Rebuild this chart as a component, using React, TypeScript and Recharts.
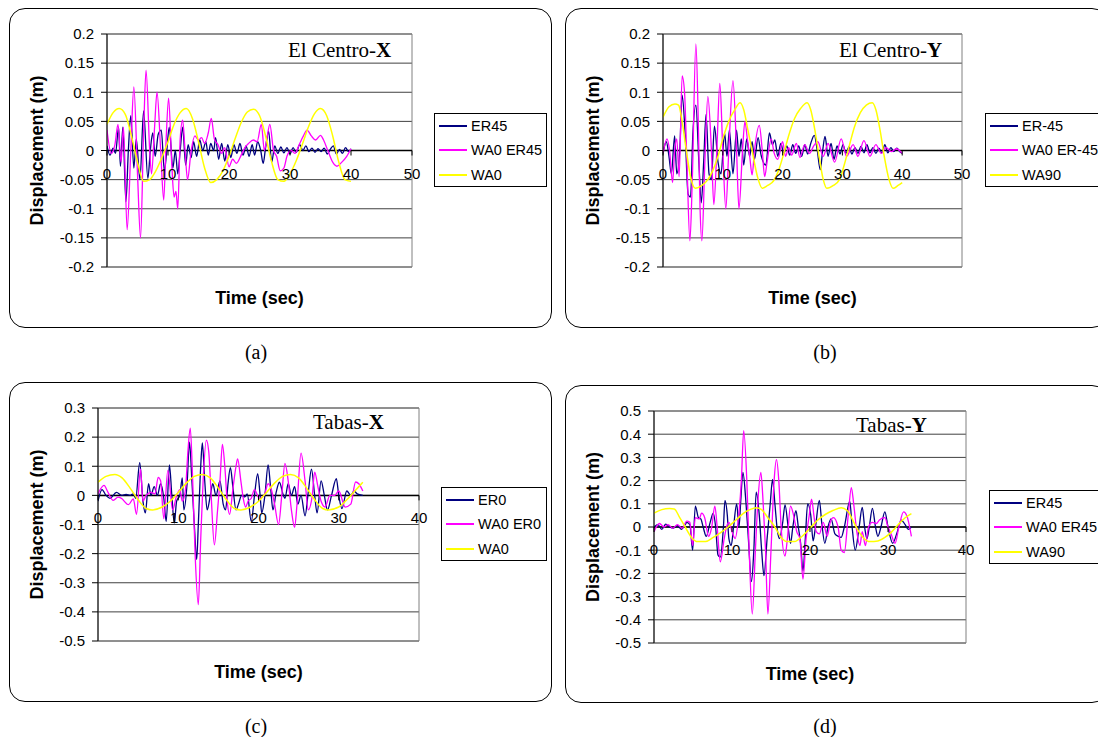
import React from "react";
import { LineChart, Line, XAxis, YAxis, CartesianGrid, ReferenceLine, ReferenceArea, Legend } from "recharts";

type Pt = [number, number];

// (a) El Centro - X   [time (s), displacement (m)]
const elcX_ER45: Pt[] = [
  [0, 0.008], [0.5, -0.008], [1.0, 0.004], [1.4, -0.005], [1.9, 0.04], [2.2, -0.027], [2.6, 0.04], [3.1, -0.088],
  [3.5, 0.0], [3.9, 0.06], [4.4, -0.03], [4.8, 0.02], [5.4, -0.05], [6.0, 0.068], [6.7, -0.048], [7.1, 0.0],
  [7.5, 0.03], [7.9, -0.01], [8.4, 0.028], [8.9, 0.035], [9.4, -0.035], [9.8, 0.0], [10.2, 0.04], [10.8, -0.03],
  [11.2, 0.0], [11.6, -0.04], [12.0, 0.0], [12.4, 0.04], [12.9, -0.025], [13.3, 0.01], [13.8, -0.012], [14.2, 0.015],
  [14.7, -0.01], [15.2, 0.018], [15.7, 0.0], [16.2, 0.015], [16.6, -0.008], [17.0, 0.012], [17.5, 0.0], [17.8, 0.022],
  [18.3, -0.015], [18.8, 0.012], [19.3, -0.018], [19.8, 0.01], [20.3, -0.012], [20.8, 0.01], [21.3, -0.005], [21.8, 0.012],
  [22.3, -0.008], [22.8, 0.008], [23.3, -0.01], [23.8, 0.01], [24.2, -0.008], [24.7, 0.015], [25.2, 0.0], [25.6, -0.022],
  [26.0, 0.005], [26.5, 0.033], [27.0, -0.02], [27.5, 0.008], [28.0, -0.005], [28.5, 0.006], [29.0, -0.004], [29.5, 0.005],
  [30.0, -0.006], [30.5, 0.005], [31.0, -0.003], [31.6, 0.01], [32.1, 0.0], [32.6, 0.008], [33.1, -0.002], [33.6, 0.004],
  [34.1, -0.003], [34.6, 0.003], [35.1, -0.002], [35.6, 0.004], [36.1, -0.006], [36.6, 0.002], [37.1, 0.008], [37.6, -0.006],
  [38.1, 0.002], [38.6, -0.005], [39.1, 0.005], [39.6, -0.002], [40.0, 0.003],
];
const elcX_WA0ER45: Pt[] = [
  [0, 0.035], [0.7, -0.005], [1.3, 0.01], [1.8, 0.045], [2.3, -0.02], [2.7, 0.04], [3.3, -0.136], [3.9, 0.0],
  [4.4, 0.109], [5.0, -0.04], [5.5, -0.15], [6.0, 0.03], [6.4, 0.138], [7.0, 0.0], [7.3, -0.04], [7.8, 0.04],
  [8.2, 0.1], [8.8, 0.0], [9.3, -0.085], [9.7, 0.02], [10.1, 0.09], [10.6, -0.02], [11.0, -0.08], [11.3, -0.07],
  [11.6, -0.1], [12.0, 0.02], [12.4, 0.052], [12.8, 0.0], [13.2, -0.05], [13.8, 0.0], [14.4, 0.025], [15.0, 0.018],
  [15.5, 0.022], [16.0, 0.012], [16.6, 0.03], [17.1, 0.055], [17.6, 0.02], [18.2, 0.01], [18.8, -0.005], [19.3, 0.005],
  [20.0, -0.028], [20.6, -0.015], [21.2, -0.022], [22.0, -0.008], [22.6, 0.005], [23.2, 0.012], [24.0, 0.018], [24.6, 0.015],
  [25.3, 0.045], [25.8, 0.0], [26.2, 0.02], [26.7, 0.045], [27.3, 0.0], [27.8, -0.01], [28.4, -0.035], [29.0, -0.03],
  [29.5, -0.01], [30.2, 0.0], [30.8, -0.005], [31.5, 0.01], [32.2, 0.025], [32.8, 0.035], [33.5, 0.025], [34.2, 0.018],
  [35.0, 0.026], [35.5, 0.018], [36.2, 0.0], [37.0, -0.02], [37.7, -0.027], [38.5, -0.02], [39.3, -0.01], [40.0, 0.003],
];
const elcX_WA0: Pt[] = [
  [0, 0.045], [1, 0.065], [2, 0.072], [3, 0.062], [4, 0.025], [5, -0.02], [6, -0.053], [7, -0.05], [8, -0.035],
  [9, -0.012], [10, 0.015], [11, 0.045], [12, 0.065], [13, 0.072], [14, 0.055], [15, 0.015], [16, -0.03], [17, -0.055],
  [18, -0.05], [19, -0.035], [20, -0.01], [21, 0.02], [22, 0.048], [23, 0.066], [24, 0.071], [25, 0.06], [26, 0.025],
  [27, -0.02], [28, -0.05], [29, -0.053], [30, -0.04], [31, -0.018], [32, 0.01], [33, 0.04], [34, 0.063], [35, 0.072],
  [36, 0.06], [37, 0.025], [38, -0.02], [39, -0.05], [40, -0.053],
];

// (b) El Centro - Y
const elcY_ER45: Pt[] = [
  [0, -0.005], [0.55, 0.015], [1.0, -0.01], [1.4, -0.04], [1.95, 0.025], [2.3, -0.04], [2.8, 0.0], [3.2, 0.095],
  [3.7, 0.03], [4.2, -0.075], [4.6, -0.08], [5.0, 0.03], [5.5, 0.078], [6.0, -0.02], [6.4, -0.09], [6.8, -0.02],
  [7.2, 0.062], [7.7, -0.04], [8.1, -0.05], [8.6, 0.042], [9.2, -0.02], [9.7, -0.04], [10.3, 0.03], [10.7, -0.01],
  [11.1, 0.035], [11.7, -0.04], [12.3, 0.035], [12.7, -0.01], [13.1, 0.02], [13.5, -0.025], [14.0, 0.02], [14.5, -0.01],
  [14.9, 0.015], [15.3, -0.015], [15.9, 0.022], [16.4, -0.008], [17.2, -0.025], [17.8, 0.03], [18.3, 0.01], [18.7, 0.018],
  [19.2, -0.01], [19.7, 0.012], [20.2, -0.005], [20.7, 0.008], [21.2, -0.008], [21.7, 0.01], [22.2, -0.005], [22.7, 0.008],
  [23.2, -0.01], [23.7, 0.01], [24.2, -0.006], [24.7, 0.012], [25.3, 0.026], [25.8, 0.0], [26.3, -0.033], [26.7, 0.0],
  [27.1, 0.024], [27.6, -0.01], [28.1, 0.012], [28.6, -0.015], [29.1, 0.008], [29.6, -0.006], [30.1, 0.01], [30.6, -0.005],
  [31.1, 0.006], [31.6, -0.006], [32.1, 0.005], [32.6, -0.005], [33.1, 0.007], [33.6, -0.004], [34.1, 0.01], [34.6, -0.004],
  [35.1, 0.005], [35.6, -0.005], [36.1, 0.004], [36.6, -0.004], [37.1, 0.01], [37.6, -0.004], [38.1, 0.005], [38.6, -0.002],
  [39.1, 0.004], [39.6, -0.002], [40.0, -0.005],
];
const elcY_WA0ER45: Pt[] = [
  [0, -0.005], [0.67, 0.02], [1.1, 0.0], [1.6, -0.055], [1.95, 0.0], [2.3, 0.02], [2.7, -0.045], [3.2, 0.128],
  [3.6, 0.1], [4.0, -0.02], [4.5, -0.155], [4.9, -0.05], [5.5, 0.183], [5.9, 0.05], [6.2, -0.1], [6.5, -0.155],
  [7.0, -0.02], [7.5, 0.093], [8.1, 0.0], [8.5, -0.093], [9.0, 0.0], [9.5, 0.115], [10.0, 0.0], [10.5, -0.1],
  [11.0, 0.0], [11.7, 0.12], [12.3, 0.0], [12.7, -0.1], [13.3, 0.0], [13.7, 0.05], [14.1, 0.02], [14.5, -0.01],
  [14.9, -0.042], [15.3, 0.0], [16.1, 0.043], [16.6, 0.0], [17.0, -0.045], [17.4, -0.02], [18.1, 0.02], [18.6, -0.005],
  [19.2, -0.015], [20.0, 0.015], [20.5, -0.01], [21.0, 0.005], [21.5, -0.008], [22.3, 0.012], [22.9, -0.012], [23.7, 0.01],
  [24.5, -0.005], [25.2, 0.008], [25.9, 0.015], [26.8, -0.01], [27.6, 0.012], [28.7, -0.02], [29.8, 0.02], [30.7, -0.01],
  [31.8, 0.01], [32.6, -0.01], [33.6, 0.017], [34.6, -0.01], [35.6, 0.01], [36.5, -0.005], [37.3, 0.005], [38.2, -0.002],
  [39.0, 0.003], [40.0, -0.005],
];
const elcY_WA90: Pt[] = [
  [0, 0.057], [1, 0.075], [2, 0.08], [2.6, 0.078], [3.2, 0.05], [3.9, 0.0], [4.6, -0.045], [5.4, -0.065], [6.5, -0.06],
  [7.5, -0.05], [8.3, -0.035], [9.2, -0.01], [10, 0.02], [11, 0.05], [12, 0.07], [12.9, 0.082], [13.5, 0.07], [14.2, 0.035],
  [14.9, 0.0], [15.8, -0.045], [16.6, -0.065], [17.5, -0.06], [18.5, -0.052], [19.3, -0.035], [20.2, -0.005], [21, 0.025],
  [22, 0.055], [23, 0.072], [24.1, 0.082], [24.7, 0.07], [25.4, 0.035], [26.1, -0.01], [26.8, -0.05], [27.4, -0.065],
  [28.5, -0.06], [29.5, -0.05], [30.3, -0.025], [31.2, 0.01], [32, 0.04], [33, 0.065], [34, 0.078], [35, 0.082],
  [35.6, 0.07], [36.3, 0.035], [37, -0.01], [37.8, -0.05], [38.5, -0.065], [39.3, -0.06], [40, -0.055],
];

// (c) Tabas - X
const tabX_ER0: Pt[] = [
  [0, -0.02], [0.5, 0.02], [1.0, 0.0], [1.5, -0.01], [2.3, 0.01], [3.0, 0.0], [3.5, 0.003], [4.0, 0.0], [4.4, 0.005],
  [4.7, -0.01], [5.2, 0.112], [5.6, -0.02], [5.9, -0.06], [6.3, 0.04], [6.6, 0.0], [7.0, 0.03], [7.4, 0.0], [7.8, 0.04],
  [8.2, -0.01], [8.5, -0.09], [8.9, 0.105], [9.2, 0.0], [9.5, -0.095], [9.8, -0.02], [10.2, 0.0], [10.5, 0.06],
  [10.7, -0.05], [11.1, 0.04], [11.4, 0.183], [11.7, 0.05], [12.0, -0.1], [12.3, -0.22], [12.5, -0.1], [12.8, 0.1],
  [13.0, 0.18], [13.3, 0.05], [13.6, -0.05], [14.0, 0.0], [14.3, 0.04], [14.7, 0.0], [15.2, 0.05], [15.6, -0.03],
  [15.9, -0.05], [16.2, 0.04], [16.5, 0.095], [16.8, 0.03], [17.2, -0.05], [17.5, -0.03], [17.9, 0.0], [18.3, -0.005],
  [18.6, 0.005], [19.1, -0.09], [19.5, 0.0], [19.9, 0.075], [20.2, 0.0], [20.4, -0.06], [20.8, 0.0], [21.2, 0.105],
  [21.5, 0.03], [21.8, -0.05], [22.2, 0.01], [22.6, 0.045], [23.1, 0.0], [23.3, -0.01], [23.7, 0.04], [24.1, 0.0],
  [24.5, 0.03], [24.9, -0.03], [25.3, 0.0], [25.8, -0.07], [26.2, 0.01], [26.6, 0.09], [27.0, 0.0], [27.3, -0.06],
  [27.8, 0.05], [28.2, 0.0], [28.6, -0.05], [29.1, 0.0], [29.7, 0.057], [30.0, 0.0], [30.4, -0.045], [31.0, 0.015],
  [31.5, 0.0], [31.9, 0.015], [32.3, 0.005], [33.0, 0.0],
];
const tabX_WA0ER0: Pt[] = [
  [0, 0.005], [0.75, 0.034], [1.25, 0.01], [1.9, -0.017], [2.5, -0.006], [2.9, -0.01], [3.8, -0.032], [4.4, -0.012],
  [4.8, -0.065], [5.3, 0.09], [5.6, -0.02], [6.0, 0.0], [6.6, 0.01], [7.1, 0.005], [7.5, 0.062], [7.8, 0.05],
  [8.2, -0.08], [8.7, 0.086], [9.3, -0.05], [9.8, 0.0], [10.2, 0.02], [10.5, -0.02], [10.9, 0.02], [11.2, 0.15],
  [11.5, 0.231], [11.8, 0.05], [12.1, -0.2], [12.5, -0.375], [12.8, -0.15], [13.1, 0.05], [13.5, 0.19], [13.8, 0.15],
  [14.1, 0.0], [14.5, -0.17], [14.9, -0.05], [15.2, 0.05], [15.5, 0.175], [15.8, 0.1], [16.1, -0.02], [16.4, -0.065],
  [16.8, 0.02], [17.2, 0.1], [17.4, 0.125], [17.8, 0.05], [18.1, -0.01], [18.4, -0.04], [18.7, -0.02], [19.1, -0.01],
  [19.5, 0.02], [20.1, -0.01], [20.7, 0.0], [21.2, 0.04], [21.6, 0.02], [22.0, -0.03], [22.5, -0.1], [22.9, 0.0],
  [23.3, 0.11], [23.7, 0.05], [24.1, -0.05], [24.5, -0.11], [24.8, -0.03], [25.3, 0.145], [25.8, 0.05], [26.2, -0.05],
  [26.7, 0.0], [27.0, 0.08], [27.4, 0.03], [27.8, -0.02], [28.3, -0.04], [28.9, 0.0], [29.5, 0.0], [30.0, 0.015],
  [30.8, -0.04], [31.5, -0.03], [32.1, 0.046], [32.5, 0.04], [33.0, 0.015],
];
const tabX_WA0: Pt[] = [
  [0, 0.045], [1, 0.065], [2.1, 0.072], [3, 0.06], [4, 0.025], [5, -0.015], [6, -0.045], [6.8, -0.05], [8, -0.04],
  [9, -0.02], [10, 0.01], [11, 0.042], [12, 0.065], [13, 0.072], [14, 0.06], [15, 0.025], [16, -0.015], [17, -0.045],
  [17.8, -0.05], [19, -0.04], [20, -0.02], [21, 0.01], [22, 0.042], [23, 0.065], [24, 0.072], [25, 0.06], [26, 0.025],
  [27, -0.015], [28, -0.045], [28.7, -0.05], [30, -0.04], [31, -0.015], [32, 0.015], [33, 0.045],
];

// (d) Tabas - Y
const tabY_ER45: Pt[] = [
  [0, 0.0], [0.5, 0.01], [1.0, -0.01], [1.5, 0.012], [2.0, 0.0], [2.5, -0.005], [3.0, 0.006], [3.5, -0.01], [4.0, 0.01],
  [4.2, 0.02], [4.6, 0.01], [4.95, -0.1], [5.3, 0.09], [5.7, 0.04], [6.0, 0.035], [6.3, 0.0], [6.7, -0.04], [7.2, 0.02],
  [7.6, 0.06], [7.9, 0.0], [8.2, -0.12], [8.5, -0.13], [8.9, 0.0], [9.1, 0.115], [9.4, 0.05], [9.6, -0.05], [9.9, -0.08],
  [10.2, 0.0], [10.6, 0.1], [10.9, 0.0], [11.1, 0.1], [11.4, 0.235], [11.8, 0.1], [12.1, -0.05], [12.5, -0.235],
  [12.8, -0.1], [13.1, 0.15], [13.5, 0.05], [13.8, -0.1], [14.1, -0.21], [14.5, -0.05], [14.9, 0.1], [15.2, 0.205],
  [15.5, 0.1], [15.8, -0.01], [16.1, -0.05], [16.5, 0.02], [16.8, 0.095], [17.2, 0.0], [17.5, -0.07], [17.8, 0.0],
  [18.2, 0.07], [18.5, 0.0], [18.8, -0.07], [19.1, -0.19], [19.4, -0.05], [19.7, 0.1], [20.1, 0.05], [20.4, -0.06],
  [20.7, 0.0], [21.2, 0.115], [21.5, 0.02], [21.9, -0.07], [22.3, 0.0], [22.7, 0.035], [23.2, -0.03], [23.6, -0.04],
  [24.0, -0.045], [24.4, 0.0], [25.1, 0.11], [25.4, 0.0], [25.8, -0.1], [26.3, 0.0], [26.7, 0.085], [27.0, 0.0],
  [27.3, -0.05], [27.6, 0.0], [28.0, 0.08], [28.4, 0.0], [28.7, -0.04], [29.1, 0.0], [29.6, 0.065], [30.0, 0.0],
  [30.6, -0.07], [31.2, -0.02], [31.7, 0.03], [32.2, 0.01], [32.6, -0.01], [33.0, 0.0],
];
const tabY_WA0ER45: Pt[] = [
  [0, -0.02], [0.7, 0.015], [1.3, 0.0], [1.8, 0.01], [2.4, -0.005], [3.0, 0.01], [3.6, -0.005], [4.2, 0.025],
  [4.6, 0.02], [4.95, -0.08], [5.3, 0.04], [5.8, 0.035], [6.1, 0.06], [6.5, 0.04], [7.0, -0.04], [7.4, 0.0],
  [7.8, 0.09], [8.1, 0.0], [8.5, -0.15], [9.0, -0.05], [9.3, 0.0], [9.6, 0.02], [10.1, -0.03], [10.4, -0.05],
  [10.8, 0.03], [11.2, 0.2], [11.5, 0.415], [11.9, 0.2], [12.2, -0.1], [12.6, -0.375], [13.0, -0.1], [13.3, 0.1],
  [13.7, 0.235], [14.0, 0.1], [14.3, -0.1], [14.6, -0.375], [15.0, -0.1], [15.4, 0.2], [15.7, 0.29], [16.0, 0.2],
  [16.3, 0.0], [16.8, -0.125], [17.1, -0.05], [17.5, 0.09], [17.9, 0.05], [18.3, -0.02], [18.7, -0.05], [19.1, -0.225],
  [19.5, -0.05], [19.9, 0.05], [20.2, 0.12], [20.5, 0.05], [20.8, -0.02], [21.2, -0.03], [21.7, 0.02], [22.2, -0.04],
  [22.6, 0.02], [23.0, 0.04], [23.6, 0.0], [24.0, -0.1], [24.4, -0.11], [24.9, 0.05], [25.3, 0.17], [25.6, 0.1],
  [26.0, -0.02], [26.4, -0.08], [26.7, -0.02], [27.1, -0.08], [27.5, 0.0], [28.0, 0.02], [28.5, 0.015], [28.9, 0.03],
  [29.6, 0.04], [30.0, 0.0], [30.4, -0.03], [30.9, -0.07], [31.4, 0.0], [32.0, 0.065], [32.4, 0.05], [33.0, -0.04],
];
const tabY_WA90: Pt[] = [
  [0, 0.06], [1, 0.075], [2, 0.08], [2.6, 0.078], [3.3, 0.04], [4, 0.0], [4.8, -0.045], [5.6, -0.063], [6.6, -0.063],
  [7.6, -0.045], [8.5, -0.025], [9.5, 0.0], [10.5, 0.03], [11.5, 0.06], [12.3, 0.075], [13.1, 0.083], [13.8, 0.075],
  [14.6, 0.04], [15.5, 0.0], [16.3, -0.045], [17.0, -0.062], [18.0, -0.063], [19.0, -0.04], [20.0, -0.005], [21.0, 0.03],
  [22.0, 0.055], [23.0, 0.072], [24.0, 0.083], [24.8, 0.07], [25.4, 0.035], [26.0, -0.005], [26.8, -0.045], [27.7, -0.063],
  [28.7, -0.06], [29.6, -0.045], [30.5, -0.02], [31.3, 0.01], [32.2, 0.04], [33.0, 0.058],
];

const Y_TICKS_SMALL = [-0.2, -0.15, -0.1, -0.05, 0, 0.05, 0.1, 0.15, 0.2];
const Y_TICKS_TABAS_X = [-0.5, -0.4, -0.3, -0.2, -0.1, 0, 0.1, 0.2, 0.3];
const Y_TICKS_TABAS_Y = [-0.5, -0.4, -0.3, -0.2, -0.1, 0, 0.1, 0.2, 0.3, 0.4, 0.5];
const X_TICKS_50 = [0, 10, 20, 30, 40, 50];
const X_TICKS_40 = [0, 10, 20, 30, 40];

const NAVY = "#000080";
const MAGENTA = "#ff00ff";
const YELLOW = "#ffff00";
const SANS = "Arial, 'Liberation Sans', sans-serif";
const SERIF = "'Times New Roman', 'Liberation Serif', serif";
const Y_W = 60;
const X_H = 40;

const toRows = (pts: Pt[]) => pts.map(([t, v]) => ({ t, v }));

function XTick({ x, y, payload, shift }: any) {
  const y0 = y - shift;
  return (
    <g>
      <line x1={x} x2={x} y1={y0} y2={y0 + 5} stroke="#000" />
      <text x={x} y={y0 + 28} textAnchor="middle" fontSize={15} fontFamily={SANS} fill="#000">
        {payload.value}
      </text>
    </g>
  );
}

// keep series order (recharts sorts legend items by name otherwise)
function LegendBox({ payload, order }: any) {
  const items = [...(payload || [])].sort((a: any, b: any) => order.indexOf(a.value) - order.indexOf(b.value));
  return (
    <div
      style={{
        border: "1px solid #000",
        background: "#fff",
        height: 74,
        boxSizing: "border-box",
        paddingLeft: 4,
        fontFamily: SANS,
        fontSize: 14.5,
        color: "#000",
        whiteSpace: "nowrap",
      }}
    >
      {items.map((e: any) => (
        <div key={e.value} style={{ height: 24.3, display: "flex", alignItems: "center" }}>
          <span style={{ display: "inline-block", width: 28, borderTop: `2px solid ${e.color}`, marginRight: 4 }} />
          <span>{e.value}</span>
        </div>
      ))}
    </div>
  );
}

interface PanelProps {
  left: number;
  top: number;
  width: number;
  height: number;
  margin: { top: number; right: number; bottom: number; left: number };
  names: string[];
  series: Pt[][];
  yTicks: number[];
  xTicks: number[];
  yTitleGap: number;
  legend: { left: number; top: number; width: number };
  titleBase: string;
  titleBold: string;
  titleAt: [number, number];
  caption: string;
  captionAt: [number, number];
}

function Panel(p: PanelProps) {
  const colors = [NAVY, MAGENTA, YELLOW];
  const yMin = p.yTicks[0];
  const yMax = p.yTicks[p.yTicks.length - 1];
  const xMax = p.xTicks[p.xTicks.length - 1];
  const plotH = p.height - p.margin.top - p.margin.bottom - X_H;
  const shift = (plotH * (0 - yMin)) / (yMax - yMin);

  return (
    <>
      <div
        style={{
          position: "absolute",
          left: p.left,
          top: p.top,
          width: p.width,
          height: p.height,
          border: "1.5px solid #000",
          borderRadius: 16,
          boxSizing: "border-box",
        }}
      />
      <div style={{ position: "absolute", left: p.left, top: p.top }}>
        <LineChart width={p.width} height={p.height} margin={p.margin}>
          <CartesianGrid horizontal vertical={false} stroke="#404040" />
          <ReferenceArea x1={0} x2={xMax} y1={yMin} y2={yMax} fill="none" fillOpacity={0} stroke="#808080" />
          <XAxis
            type="number"
            dataKey="t"
            domain={[0, xMax]}
            ticks={p.xTicks}
            interval={0}
            axisLine={false}
            tickLine={false}
            tickSize={0}
            tickMargin={0}
            height={X_H}
            allowDataOverflow
            tick={(props: any) => <XTick {...props} shift={shift} />}
            label={{
              content: (lp: any) => {
                const vb = lp.viewBox || {};
                return (
                  <text
                    x={vb.x + vb.width / 2}
                    y={vb.y + 37}
                    textAnchor="middle"
                    fontSize={18}
                    fontWeight="bold"
                    fontFamily={SANS}
                    fill="#000"
                  >
                    Time (sec)
                  </text>
                );
              },
            }}
          />
          <YAxis
            type="number"
            domain={[yMin, yMax]}
            ticks={p.yTicks}
            interval={0}
            width={Y_W}
            tickSize={6}
            tickMargin={7}
            allowDataOverflow
            axisLine={{ stroke: "#000" }}
            tickLine={{ stroke: "#000" }}
            tick={{ fontSize: 15, fontFamily: SANS, fill: "#000" }}
            tickFormatter={(v: number) => String(v)}
            label={{
              content: (lp: any) => {
                const vb = lp.viewBox || {};
                const cx = vb.x + vb.width - p.yTitleGap;
                const cy = vb.y + vb.height / 2;
                return (
                  <text
                    x={cx}
                    y={cy}
                    transform={`rotate(-90 ${cx} ${cy})`}
                    textAnchor="middle"
                    dominantBaseline="central"
                    fontSize={18}
                    fontWeight="bold"
                    fontFamily={SANS}
                    fill="#000"
                  >
                    Displacement (m)
                  </text>
                );
              },
            }}
          />
          <ReferenceLine y={0} stroke="#000" strokeWidth={1.5} />
          {p.series.map((s, i) => (
            <Line
              key={p.names[i]}
              data={toRows(s)}
              dataKey="v"
              name={p.names[i]}
              type="monotone"
              stroke={colors[i]}
              strokeWidth={i === 2 ? 1.5 : 1.3}
              dot={false}
              activeDot={false}
              isAnimationActive={false}
            />
          ))}
          <Legend
            layout="vertical"
            align="center"
            verticalAlign="middle"
            wrapperStyle={{ left: p.legend.left, top: p.legend.top, width: p.legend.width }}
            content={(lp: any) => <LegendBox payload={lp.payload} order={p.names} />}
          />
        </LineChart>
      </div>
      <div
        style={{
          position: "absolute",
          left: p.titleAt[0],
          top: p.titleAt[1] - 12,
          lineHeight: "24px",
          fontFamily: SERIF,
          fontSize: 21,
          whiteSpace: "nowrap",
          color: "#000",
        }}
      >
        {p.titleBase}
        <b>{p.titleBold}</b>
      </div>
      <div
        style={{
          position: "absolute",
          left: p.captionAt[0] - 30,
          top: p.captionAt[1] - 12,
          width: 60,
          textAlign: "center",
          lineHeight: "24px",
          fontFamily: SERIF,
          fontSize: 20,
          color: "#000",
        }}
      >
        {p.caption}
      </div>
    </>
  );
}

export default function App() {
  return (
    <div
      style={{
        position: "absolute",
        left: 0,
        top: 0,
        width: 1098,
        height: 737,
        overflow: "hidden",
        background: "#fff",
      }}
    >
      <Panel
        left={9}
        top={8}
        width={543}
        height={320}
        margin={{ top: 26, right: 140, bottom: 21, left: 38 }}
        names={["ER45", "WA0 ER45", "WA0"]}
        series={[elcX_ER45, elcX_WA0ER45, elcX_WA0]}
        yTicks={Y_TICKS_SMALL}
        xTicks={X_TICKS_50}
        yTitleGap={70.5}
        legend={{ left: 425, top: 105, width: 113 }}
        titleBase="El Centro-"
        titleBold="X"
        titleAt={[288, 50]}
        caption="(a)"
        captionAt={[256, 352]}
      />
      <Panel
        left={565}
        top={8}
        width={543}
        height={320}
        margin={{ top: 26, right: 146, bottom: 21, left: 38 }}
        names={["ER-45", "WA0 ER-45", "WA90"]}
        series={[elcY_ER45, elcY_WA0ER45, elcY_WA90]}
        yTicks={Y_TICKS_SMALL}
        xTicks={X_TICKS_50}
        yTitleGap={70}
        legend={{ left: 420, top: 105, width: 125 }}
        titleBase="El Centro-"
        titleBold="Y"
        titleAt={[839, 50]}
        caption="(b)"
        captionAt={[825, 352]}
      />
      <Panel
        left={9}
        top={382}
        width={543}
        height={320}
        margin={{ top: 26, right: 133, bottom: 21, left: 29 }}
        names={["ER0", "WA0 ER0", "WA0"]}
        series={[tabX_ER0, tabX_WA0ER0, tabX_WA0]}
        yTicks={Y_TICKS_TABAS_X}
        xTicks={X_TICKS_40}
        yTitleGap={61}
        legend={{ left: 432, top: 105, width: 106 }}
        titleBase="Tabas-"
        titleBold="X"
        titleAt={[313, 422]}
        caption="(c)"
        captionAt={[256, 726]}
      />
      <Panel
        left={565}
        top={385}
        width={543}
        height={318}
        margin={{ top: 26, right: 142, bottom: 20, left: 29 }}
        names={["ER45", "WA0 ER45", "WA90"]}
        series={[tabY_ER45, tabY_WA0ER45, tabY_WA90]}
        yTicks={Y_TICKS_TABAS_Y}
        xTicks={X_TICKS_40}
        yTitleGap={61}
        legend={{ left: 424, top: 105, width: 125 }}
        titleBase="Tabas-"
        titleBold="Y"
        titleAt={[856, 425]}
        caption="(d)"
        captionAt={[825, 726]}
      />
    </div>
  );
}
